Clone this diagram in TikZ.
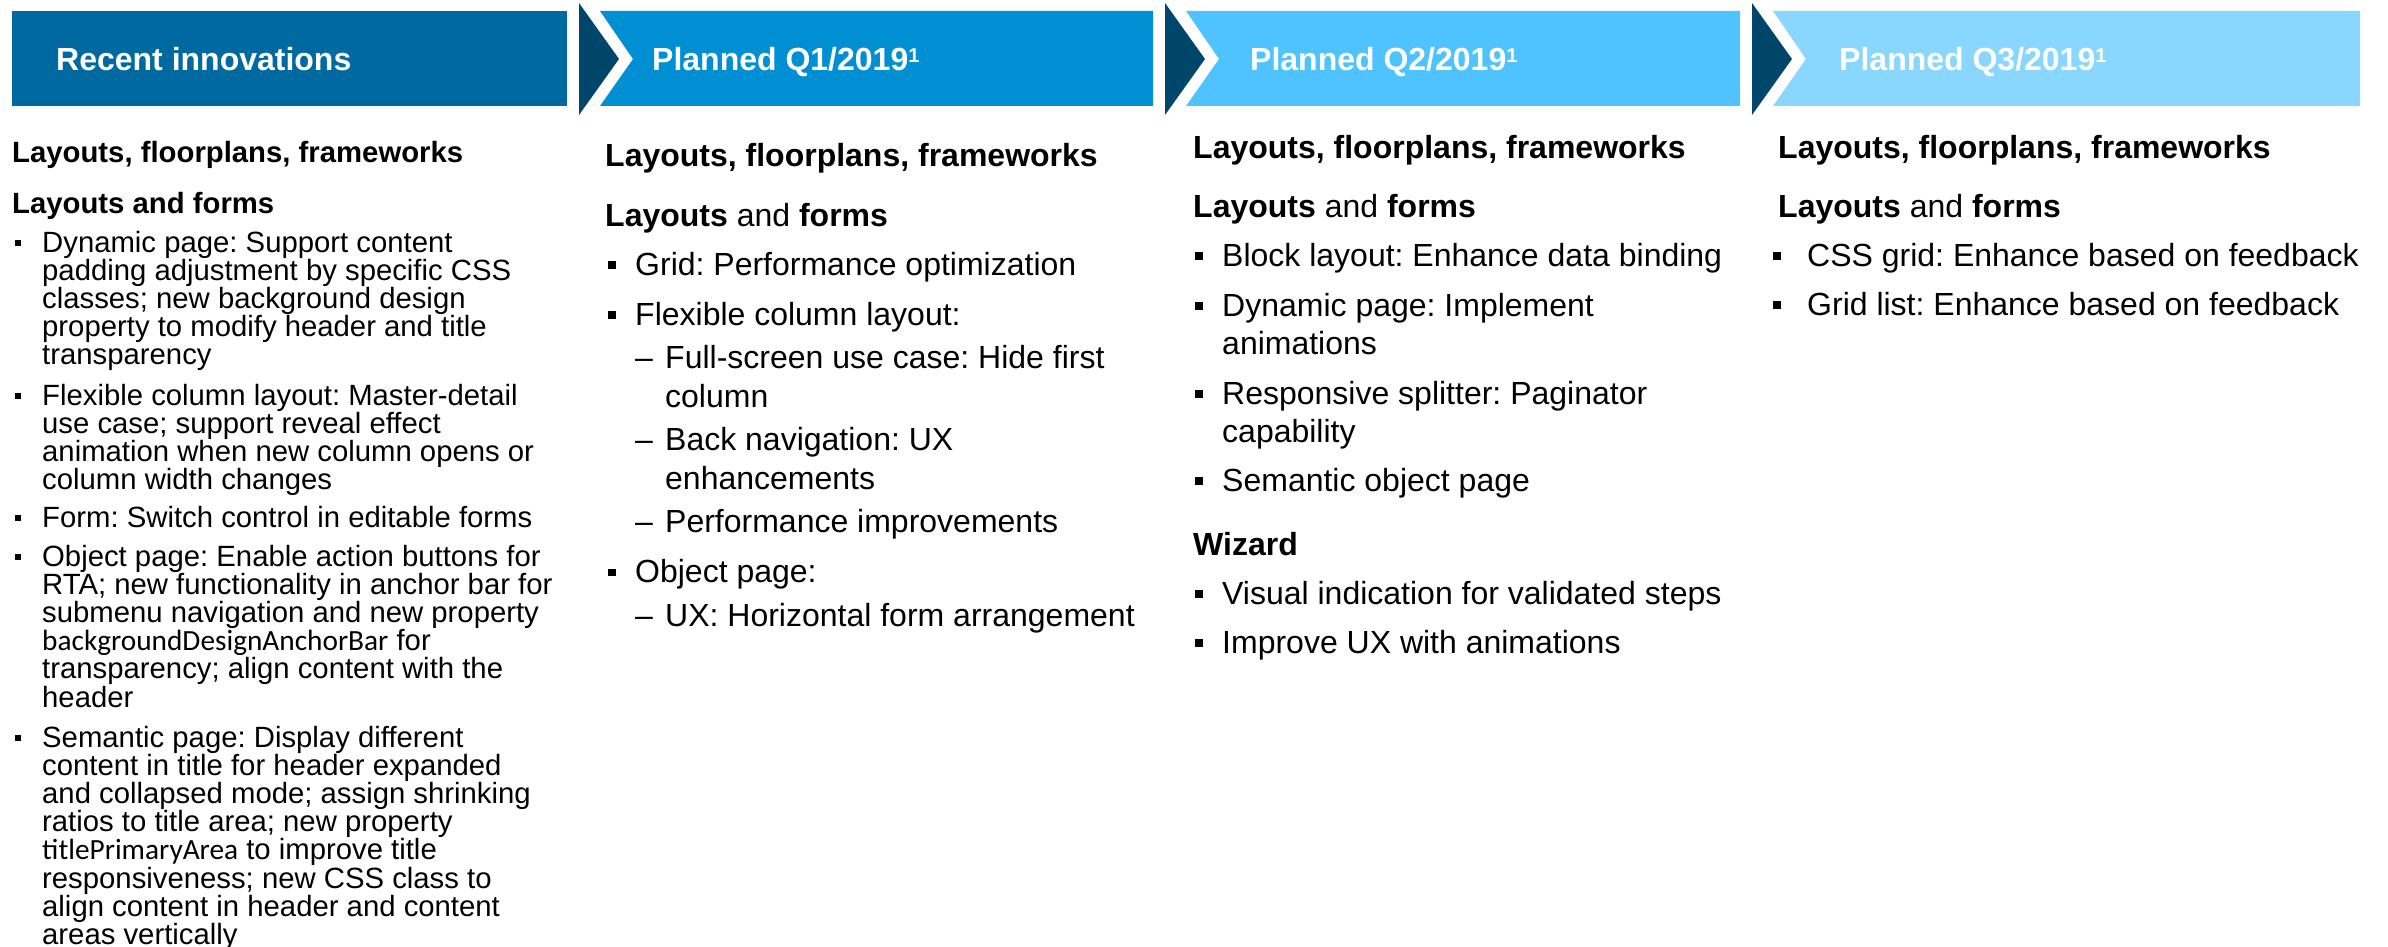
\documentclass[tikz,border=0pt]{standalone}
\usepackage{fontspec}
\setmainfont{Liberation Sans}
\newfontfamily\calib{Carlito}
\definecolor{cA}{RGB}{0,106,160}
\definecolor{cB}{RGB}{0,143,211}
\definecolor{cC}{RGB}{78,195,255}
\definecolor{cD}{RGB}{137,214,255}
\definecolor{cDark}{RGB}{0,70,106}
\newcommand\supone{\raisebox{8pt}{\fontsize{20}{20}\selectfont 1}}
\newcommand\ml[1]{\vtop{\let\\\cr\lineskiplimit=-1000pt\halign{##\hfil\cr#1\crcr}}}
\frenchspacing
\begin{document}
\begin{tikzpicture}[x=1pt,y=-1pt,
 hdr/.style={font=\fontsize{32}{38}\selectfont\bfseries\frenchspacing, text=white, anchor=base west, inner sep=0pt},
 bigtxt/.style={font=\fontsize{32}{38.5}\selectfont\frenchspacing, anchor=base west, inner sep=0pt},
 smalltxt/.style={font=\fontsize{29.3}{28.2}\selectfont\frenchspacing, anchor=base west, inner sep=0pt},
 bigbul/.style={fill=black, minimum size=7.5pt, inner sep=0pt},
 smallbul/.style={fill=black, minimum size=6.5pt, inner sep=0pt},
 chev/.style={fill=cDark}
]
\useasboundingbox (0,0) rectangle (2388,947);
% header bars
\fill[cA] (12,11) rectangle (567,106);
\fill[chev] (579,3) -- (619,59) -- (579,115) -- cycle;
\fill[cB] (600,11) -- (1153,11) -- (1153,106) -- (600,106) -- (633,59) -- cycle;
\fill[chev] (1165,3) -- (1205,59) -- (1165,115) -- cycle;
\fill[cC] (1186,11) -- (1740,11) -- (1740,106) -- (1186,106) -- (1219,59) -- cycle;
\fill[chev] (1752,3) -- (1792,59) -- (1752,115) -- cycle;
\fill[cD] (1773,11) -- (2360,11) -- (2360,106) -- (1773,106) -- (1806,59) -- cycle;
\node[hdr] (h1) at (56,71) {Recent innovations};
\node[hdr] (h2) at (652,71) {Planned Q1/2019\supone};
\node[hdr] (h3) at (1250,71) {Planned Q2/2019\supone};
\node[hdr] (h4) at (1839,71) {Planned Q3/2019\supone};
% column 1
\node[smalltxt,font=\fontsize{29.3}{28.2}\selectfont\bfseries] (a0) at (12,162) {Layouts, floorplans, frameworks};
\node[smalltxt,font=\fontsize{29.3}{28.2}\selectfont\bfseries] (a1) at (12,213) {Layouts and forms};
\node[smallbul] (ab1) at (18,243) {};
\node[smalltxt] (a2) at (42,252) {\ml{Dynamic page: Support content\\padding adjustment by specific CSS\\classes; new background design\\property to modify header and title\\transparency}};
\node[smallbul] (ab2) at (18,396) {};
\node[smalltxt] (a3) at (42,405) {\ml{Flexible column layout: Master-detail\\use case; support reveal effect\\animation when new column opens or\\column width changes}};
\node[smallbul] (ab3) at (18,518) {};
\node[smalltxt] (a4) at (42,527) {Form: Switch control in editable forms};
\node[smallbul] (ab4) at (18,557) {};
\node[smalltxt] (a5) at (42,566) {\ml{Object page: Enable action buttons for\\RTA; new functionality in anchor bar for\\submenu navigation and new property\\{\calib backgroundDesignAnchorBar} for\\transparency; align content with the\\header}};
\node[smallbul] (ab5) at (18,738) {};
\node[smalltxt] (a6) at (42,747) {\ml{Semantic page: Display different\\content in title for header expanded\\and collapsed mode; assign shrinking\\ratios to title area; new property\\{\calib titlePrimaryArea} to improve title\\responsiveness; new CSS class to\\align content in header and content\\areas vertically}};
% column 2
\node[bigtxt,font=\fontsize{32}{38.5}\selectfont\bfseries] (b0) at (605,167) {Layouts, floorplans, frameworks};
\node[bigtxt] (b1) at (605,226) {\textbf{Layouts} and \textbf{forms}};
\node[bigbul] (bb1) at (612,265) {};
\node[bigtxt] (b2) at (635,275) {Grid: Performance optimization};
\node[bigbul] (bb2) at (612,315) {};
\node[bigtxt] (b3) at (635,325) {Flexible column layout:};
\node[bigtxt] (bd1) at (635,368.5) {–};
\node[bigtxt] (b4) at (665,368.5) {\ml{Full-screen use case: Hide first\\column}};
\node[bigtxt] (bd2) at (635,450.5) {–};
\node[bigtxt] (b5) at (665,450.5) {\ml{Back navigation: UX\\enhancements}};
\node[bigtxt] (bd3) at (635,532.5) {–};
\node[bigtxt] (b6) at (665,532.5) {Performance improvements};
\node[bigbul] (bb3) at (612,572.5) {};
\node[bigtxt] (b7) at (635,582.5) {Object page:};
\node[bigtxt] (bd4) at (635,626) {–};
\node[bigtxt] (b8) at (665,626) {UX: Horizontal form arrangement};
% column 3
\node[bigtxt,font=\fontsize{32}{38.5}\selectfont\bfseries] (c0) at (1193,159) {Layouts, floorplans, frameworks};
\node[bigtxt] (c1) at (1193,217) {\textbf{Layouts} and \textbf{forms}};
\node[bigbul] (cb1) at (1199,256) {};
\node[bigtxt] (c2) at (1222,266) {Block layout: Enhance data binding};
\node[bigbul] (cb2) at (1199,306) {};
\node[bigtxt] (c3) at (1222,316) {\ml{Dynamic page: Implement\\animations}};
\node[bigbul] (cb3) at (1199,394) {};
\node[bigtxt] (c4) at (1222,404) {\ml{Responsive splitter: Paginator\\capability}};
\node[bigbul] (cb4) at (1199,481) {};
\node[bigtxt] (c5) at (1222,491) {Semantic object page};
\node[bigtxt,font=\fontsize{32}{38.5}\selectfont\bfseries] (c6) at (1193,555) {Wizard};
\node[bigbul] (cb5) at (1199,594) {};
\node[bigtxt] (c7) at (1222,604) {Visual indication for validated steps};
\node[bigbul] (cb6) at (1199,643) {};
\node[bigtxt] (c8) at (1222,653) {Improve UX with animations};
% column 4
\node[bigtxt,font=\fontsize{32}{38.5}\selectfont\bfseries] (d0) at (1778,159) {Layouts, floorplans, frameworks};
\node[bigtxt] (d1) at (1778,217) {\textbf{Layouts} and \textbf{forms}};
\node[bigbul] (db1) at (1777,256) {};
\node[bigtxt] (d2) at (1807,266) {CSS grid: Enhance based on feedback};
\node[bigbul] (db2) at (1777,305) {};
\node[bigtxt] (d3) at (1807,315) {Grid list: Enhance based on feedback};
\end{tikzpicture}
\end{document}
